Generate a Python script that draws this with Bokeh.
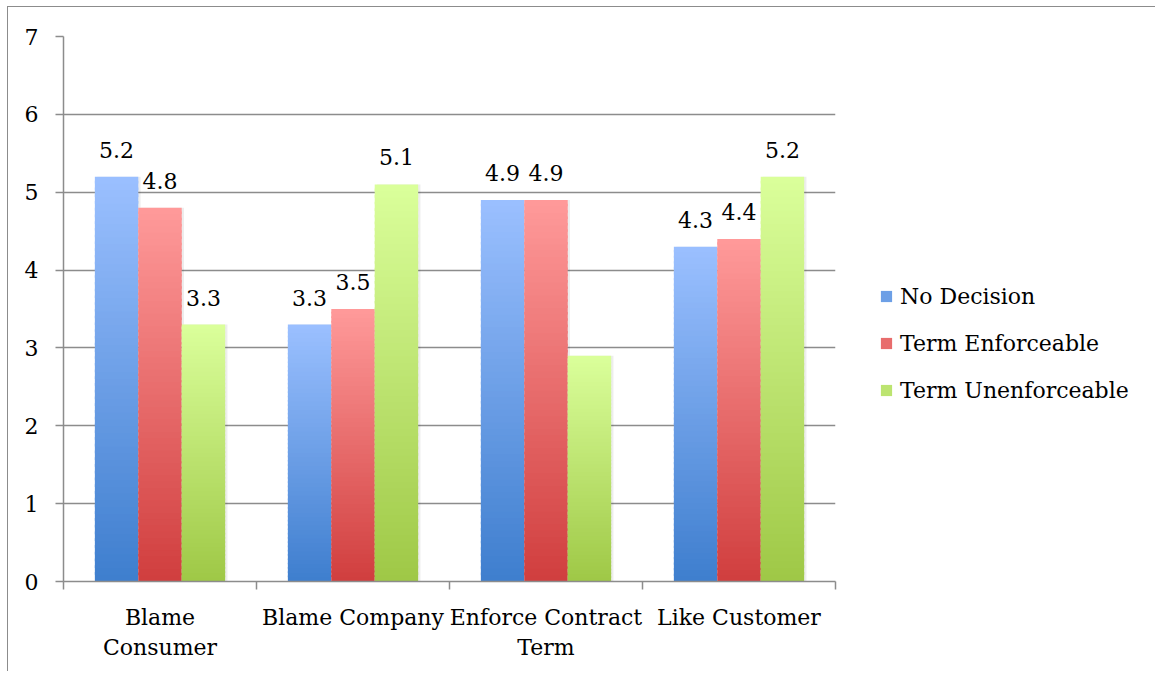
from bokeh.plotting import figure
from bokeh.models import FixedTicker, Legend, LegendItem, ColumnDataSource, Range1d
from bokeh.core.properties import value
from bokeh.embed import file_html
from bokeh.resources import INLINE

# ---- data ----
categories = ["Blame Consumer", "Blame Company", "Enforce Contract Term", "Like Customer"]
category_labels = ["Blame\nConsumer", "Blame Company", "Enforce Contract\nTerm", "Like Customer"]
series = ["No Decision", "Term Enforceable", "Term Unenforceable"]
no_decision = [5.2, 3.3, 4.9, 4.3]
term_enforceable = [4.8, 3.5, 4.9, 4.4]
term_unenforceable = [3.3, 5.1, 2.9, 5.2]
labels_no_decision = ["5.2", "3.3", "4.9", "4.3"]
labels_term_enforceable = ["4.8", "3.5", "4.9", "4.4"]
labels_term_unenforceable = ["3.3", "5.1", "", "5.2"]
y_ticks = [0, 1, 2, 3, 4, 5, 6, 7]

# ---- style ----
top_colors = [(155, 192, 255), (255, 154, 154), (219, 255, 155)]
bottom_colors = [(62, 126, 206), (208, 62, 62), (158, 200, 70)]
offsets = [-0.225, 0.0, 0.225]
bar_width = 0.225
FONT = "DejaVu Serif"
GRAY = "#8c8c8c"
N = 60

values = [no_decision, term_enforceable, term_unenforceable]
labels = [labels_no_decision, labels_term_enforceable, labels_term_unenforceable]

p = figure(frame_width=772, frame_height=545, x_range=Range1d(0, 4), y_range=Range1d(0, 7),
           output_backend="svg", toolbar_location=None,
           min_border_left=55, min_border_top=29, min_border_right=0, min_border_bottom=90)
p.outline_line_color = None
p.styles = {"border-left": "1px solid #8c8c8c", "border-top": "1px solid #8c8c8c",
            "margin-left": "7px", "margin-top": "6px"}


def hexc(c):
    return "#%02x%02x%02x" % tuple(int(round(v)) for v in c)


legend_items = []
for s, name in enumerate(series):
    xs, bots, tops, cols = [], [], [], []
    for i, v in enumerate(values[s]):
        for k in range(N):
            t = (k + 0.5) / N  # 0 bottom -> 1 top
            c = [bottom_colors[s][j] + (top_colors[s][j] - bottom_colors[s][j]) * t for j in range(3)]
            xs.append(i + 0.5 + offsets[s])
            bots.append(v * k / N)
            tops.append(min(v, v * (k + 1.4) / N))
            cols.append(hexc(c))
    # soft shadow on the right side of each bar
    shadow = ColumnDataSource(dict(x=[i + 0.5 + offsets[s] + 0.012 for i in range(len(categories))],
                                   top=values[s]))
    p.vbar(x="x", top="top", width=bar_width, fill_color="#000000", fill_alpha=0.07,
           line_color=None, source=shadow)
    src = ColumnDataSource(dict(x=xs, bottom=bots, top=tops, color=cols))
    p.vbar(x="x", bottom="bottom", top="top", width=bar_width, fill_color="color",
           line_color=None, source=src)
    mid = [(top_colors[s][j] + bottom_colors[s][j]) / 2 for j in range(3)]
    dummy = p.vbar(x=[-5], top=[0], width=bar_width, fill_color=hexc(mid), line_color=None)
    legend_items.append(LegendItem(label=name, renderers=[dummy]))

    lsrc = ColumnDataSource(dict(x=[i + 0.5 + offsets[s] for i in range(len(categories))],
                                 y=values[s], text=labels[s]))
    p.text(x="x", y="y", text="text", source=lsrc, text_font=value(FONT),
           text_font_size="22px", text_align="center", text_baseline="alphabetic",
           text_color="black", y_offset=-27)

# axes
p.xaxis.ticker = FixedTicker(ticks=[i + 0.5 for i in range(len(categories))],
                             minor_ticks=[0, 1, 2, 3, 4])
p.xaxis.major_label_overrides = {i + 0.5: category_labels[i] for i in range(len(categories))}
p.xaxis.major_tick_out = 0
p.xaxis.major_tick_in = 0
p.xaxis.minor_tick_out = 8
p.xaxis.minor_tick_in = 0
p.xaxis.minor_tick_line_color = GRAY
p.xaxis.minor_tick_line_width = 1.5
p.xaxis.axis_line_color = GRAY
p.xaxis.axis_line_width = 1.5
p.xaxis.major_label_text_font = FONT
p.xaxis.major_label_text_font_size = "22px"
p.xaxis.major_label_text_color = "black"
p.xaxis.major_label_standoff = 15

p.yaxis.ticker = FixedTicker(ticks=y_ticks)
p.yaxis.minor_tick_line_color = None
p.yaxis.major_tick_out = 8
p.yaxis.major_tick_in = 0
p.yaxis.major_tick_line_color = GRAY
p.yaxis.major_tick_line_width = 1.5
p.yaxis.axis_line_color = GRAY
p.yaxis.axis_line_width = 1.5
p.yaxis.major_label_text_font = FONT
p.yaxis.major_label_text_font_size = "22px"
p.yaxis.major_label_text_color = "black"
p.yaxis.major_label_standoff = 17

p.xgrid.grid_line_color = None
p.ygrid.ticker = FixedTicker(ticks=y_ticks)
p.ygrid.grid_line_color = GRAY
p.ygrid.grid_line_width = 1.5

legend = Legend(items=legend_items, location=(44, 178), orientation="vertical")
legend.label_text_font = FONT
legend.label_text_font_size = "22px"
legend.label_text_color = "black"
legend.glyph_width = 14
legend.glyph_height = 14
legend.label_standoff = 7
legend.label_height = 26
legend.spacing = 21
legend.padding = 0
legend.margin = 0
legend.border_line_color = None
legend.background_fill_alpha = 0
p.add_layout(legend, "right")

open("out.html", "w").write(file_html(p, INLINE))
